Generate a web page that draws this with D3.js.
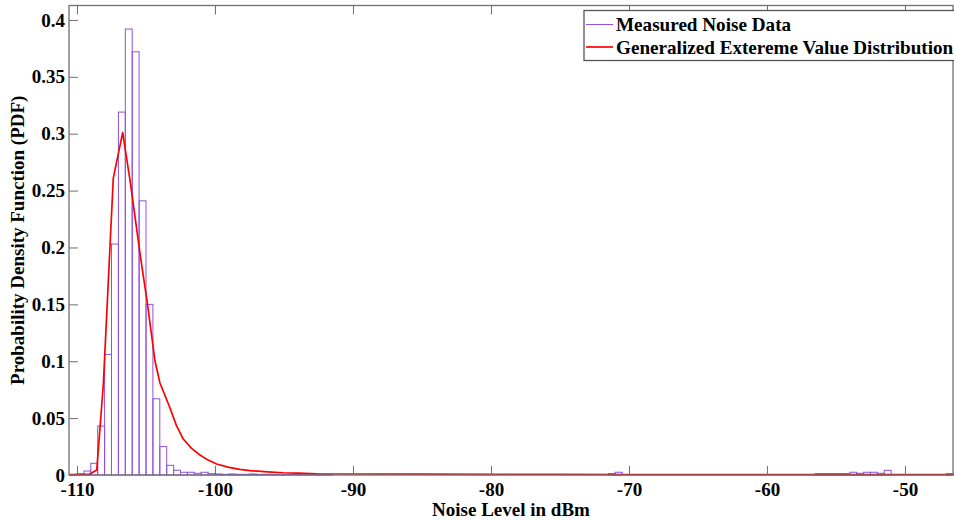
<!DOCTYPE html>
<html>
<head>
<meta charset="utf-8">
<script src="https://cdn.jsdelivr.net/npm/d3@7/dist/d3.min.js"></script>
<style>
  html, body { margin: 0; padding: 0; background: #fff; }
  svg { display: block; }
  text { font-family: "Liberation Serif", "Times New Roman", serif; font-weight: bold; fill: #000; }
</style>
</head>
<body>
<svg id="chart" width="954" height="521"></svg>
<script>
// Histogram of measured noise: left edge of each 0.5 dBm bin and its density
const binWidth = 0.5;
const binStarts = [
  -110, -109.5, -109, -108.5, -108, -107.5, -107, -106.5, -106, -105.5,
  -105, -104.5, -104, -103.5, -103, -102.5, -102, -101.5, -101, -100.5,
  -100, -99.5, -99, -98.5, -98, -97.5, -97, -96.5, -96, -95.5,
  -95, -94.5, -94, -93.5, -93, -92.5, -92,
  -71.5, -71,
  -56.5, -56, -55.5, -55, -54.5, -54, -53.5, -53, -52.5, -52, -51.5,
  -47
];
const binDensity = [
  0.0010, 0.0035, 0.0103, 0.043, 0.106, 0.203, 0.319, 0.392, 0.372, 0.241,
  0.150, 0.067, 0.025, 0.0085, 0.0042, 0.0024, 0.0024, 0.0015, 0.0024, 0.0012,
  0.0009, 0.0006, 0.0009, 0.0006, 0.0006, 0.0009, 0.0006, 0.0006, 0.0006, 0.0006,
  0.0006, 0.0009, 0.0006, 0.0006, 0.0006, 0.0006, 0.0003,
  0.0012, 0.0024,
  0.0012, 0.0012, 0.0012, 0.0012, 0.0012, 0.0024, 0.0015, 0.0024, 0.0024, 0.0015, 0.0041,
  0.0012
];

// Fitted generalized extreme value PDF, sampled along the noise axis
const gevLevel = [
  -110.58, -109.13, -108.57, -108.09, -107.37, -106.69, -106.16, -105.43, -104.90, -104.35,
  -103.99, -103.26, -102.80, -102.30, -101.70, -101.09, -100.50, -99.88, -99.00, -98.20,
  -97.46, -96.20, -95.07, -94.00, -92.61, -90.22, -85, -80, -75, -70,
  -65, -60, -55, -50, -46.5
];
const gevDensity = [
  0.0003, 0.0005, 0.0044, 0.080, 0.261, 0.301, 0.2593, 0.1943, 0.1508, 0.1002,
  0.0809, 0.0589, 0.0436, 0.0316, 0.0234, 0.0176, 0.0131, 0.0097, 0.0067, 0.0050,
  0.0038, 0.0028, 0.0020, 0.0016, 0.0011, 0.0009, 0.0007, 0.0006, 0.0005, 0.0004,
  0.0004, 0.0003, 0.0003, 0.0003, 0.0003
];

const xTicks = [-110, -100, -90, -80, -70, -60, -50];
const xTickLabels = ["-110", "-100", "-90", "-80", "-70", "-60", "-50"];
const yTicks = [0, 0.05, 0.1, 0.15, 0.2, 0.25, 0.3, 0.35, 0.4];
const yTickLabels = ["0", "0.05", "0.1", "0.15", "0.2", "0.25", "0.3", "0.35", "0.4"];

const seriesNames = ["Measured Noise Data", "Generalized Extereme Value Distribution"];
const xLabel = "Noise Level in dBm";
const yLabel = "Probability Density Function (PDF)";

const histColor = "#9150de";
const curveColor = "#ff0000";
const axisColor = "#707070";
const fontSize = 19;
const legendFontSize = 19.15;

const plotLeft = 69, plotRight = 953, plotTop = 5.5, plotBottom = 475;
const tickLen = 9;

const svg = d3.select("#chart");

const x = d3.scaleLinear().domain([-110.58, -46.52]).range([plotLeft, plotRight]);
const y = d3.scaleLinear().domain([0, 0.4127]).range([plotBottom, plotTop]);

const plot = svg.append("g");
plot.append("clipPath").attr("id", "plotClip")
  .append("rect").attr("x", plotLeft).attr("y", plotTop - 1)
  .attr("width", plotRight - plotLeft + 2).attr("height", plotBottom - plotTop + 2);

// Histogram bars (unfilled, outlined)
const bins = binStarts.map((s, i) => ({ x0: s, x1: s + binWidth, v: binDensity[i] }));
plot.append("g").attr("clip-path", "url(#plotClip)")
  .selectAll("rect").data(bins).join("rect")
  .attr("x", d => x(d.x0))
  .attr("y", d => y(d.v))
  .attr("width", d => x(d.x1) - x(d.x0))
  .attr("height", d => y(0) - y(d.v))
  .attr("fill", "none")
  .attr("stroke", histColor)
  .attr("stroke-width", 1);

// Fitted PDF curve
const line = d3.line().x(d => x(d[0])).y(d => y(d[1])).curve(d3.curveLinear);
plot.append("path")
  .attr("clip-path", "url(#plotClip)")
  .datum(gevLevel.map((v, i) => [v, gevDensity[i]]))
  .attr("d", line)
  .attr("fill", "none")
  .attr("stroke", curveColor)
  .attr("stroke-width", 1.7)
  .attr("stroke-linejoin", "round");

// Axes box with inward ticks on all visible sides
const bottomAxis = d3.axisBottom(x).tickValues(xTicks).tickSize(-tickLen)
  .tickFormat((d, i) => xTickLabels[i]);
const gx = svg.append("g").attr("transform", `translate(0,${plotBottom})`).call(bottomAxis);
gx.select(".domain").remove();
gx.selectAll(".tick line").attr("stroke", axisColor);
gx.selectAll(".tick text")
  .attr("font-size", fontSize).attr("font-family", "Liberation Serif, serif").attr("font-weight", "bold")
  .attr("fill", "#000").attr("dy", "0.71em").attr("y", 8);

const topAxis = d3.axisTop(x).tickValues(xTicks).tickSize(-tickLen).tickFormat("");
const gt = svg.append("g").attr("transform", `translate(0,${plotTop})`).call(topAxis);
gt.select(".domain").remove();
gt.selectAll(".tick line").attr("stroke", axisColor);

const leftAxis = d3.axisLeft(y).tickValues(yTicks).tickSize(-tickLen)
  .tickFormat((d, i) => yTickLabels[i]);
const gy = svg.append("g").attr("transform", `translate(${plotLeft},0)`).call(leftAxis);
gy.select(".domain").remove();
gy.selectAll(".tick line").attr("stroke", axisColor);
gy.selectAll(".tick text")
  .attr("font-size", fontSize).attr("font-family", "Liberation Serif, serif").attr("font-weight", "bold")
  .attr("fill", "#000").attr("x", -4);

svg.append("rect")
  .attr("x", plotLeft).attr("y", plotTop)
  .attr("width", plotRight - plotLeft).attr("height", plotBottom - plotTop)
  .attr("fill", "none").attr("stroke", axisColor).attr("stroke-width", 1.3);

// Axis titles
svg.append("text")
  .attr("x", (plotLeft + plotRight) / 2).attr("y", 516)
  .attr("text-anchor", "middle").attr("font-size", fontSize)
  .text(xLabel);

svg.append("text")
  .attr("transform", `translate(24,${(plotTop + plotBottom) / 2}) rotate(-90)`)
  .attr("text-anchor", "middle").attr("font-size", fontSize)
  .text(yLabel);

// Legend
const legend = svg.append("g");
legend.append("rect")
  .attr("x", 584).attr("y", 10.5).attr("width", 380).attr("height", 50)
  .attr("fill", "#fff").attr("stroke", "#555").attr("stroke-width", 1.3);
const legendColors = [histColor, curveColor];
const legendWidths = [1, 1.7];
seriesNames.forEach((name, i) => {
  const cy = 24.5 + i * 22.5;
  legend.append("line")
    .attr("x1", 586).attr("x2", 613).attr("y1", cy).attr("y2", cy)
    .attr("stroke", legendColors[i]).attr("stroke-width", legendWidths[i]);
  legend.append("text")
    .attr("x", 616).attr("y", cy + 6.5).attr("font-size", legendFontSize)
    .text(name);
});
</script>
</body>
</html>
